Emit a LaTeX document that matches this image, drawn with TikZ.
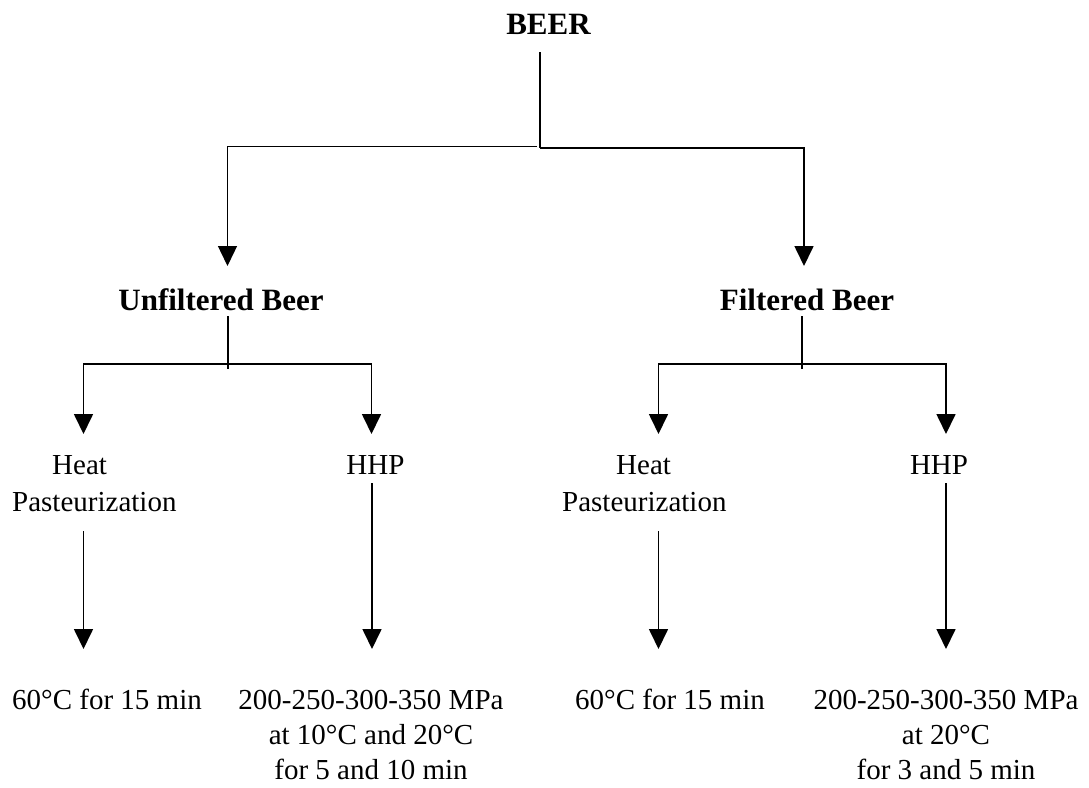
\documentclass[tikz,border=0pt]{standalone}
\usepackage{fontspec}
\setmainfont{Liberation Serif}
\usetikzlibrary{arrows.meta}
\newcommand{\ctrlines}[1]{\vtop{\baselineskip=35pt\lineskiplimit=0pt\halign{\hfil##\hfil\cr#1\cr}}}
\begin{document}
\begin{tikzpicture}[x=1pt,y=-1pt,
  conn/.style={line width=1.7pt,black},
  arr/.style={conn,-{Triangle[width=19pt,length=20pt]}},
  boldlbl/.style={inner sep=0pt,anchor=base,font=\fontsize{31}{38}\selectfont\bfseries},
  lbl/.style={inner sep=0pt,font=\fontsize{29}{36}\selectfont}]
\useasboundingbox (0,0) rectangle (1089,787);

% labels
\node[boldlbl] (beer) at (548.5,34) {BEER};
\node[boldlbl] (unf) at (221,310) {Unfiltered Beer};
\node[boldlbl] (fil) at (807,310) {Filtered Beer};
\node[lbl,anchor=base west] (heatL) at (12,474) {\fontsize{29}{37}\selectfont\begin{tabular}[t]{@{}l@{}}\hspace*{40pt}Heat\\Pasteurization\end{tabular}};
\node[lbl,anchor=base] (hhpL) at (375.5,474) {HHP};
\node[lbl,anchor=base west] (heatR) at (562,474) {\fontsize{29}{37}\selectfont\begin{tabular}[t]{@{}l@{}}\hspace*{54pt}Heat\\Pasteurization\end{tabular}};
\node[lbl,anchor=base] (hhpR) at (939,474) {HHP};
\node[lbl,anchor=base] (tL) at (107,709) {60°C for 15 min};
\node[lbl,anchor=base] (pL) at (371,709) {\ctrlines{200-250-300-350 MPa\cr at 10°C and 20°C\cr for 5 and 10 min}};
\node[lbl,anchor=base] (tR) at (670,709) {60°C for 15 min};
\node[lbl,anchor=base] (pR) at (946,709) {\ctrlines{200-250-300-350 MPa\cr at 20°C\cr for 3 and 5 min}};

% level 1 connectors
\coordinate (b0) at (540,52);
\coordinate (b1) at (540,148);
\coordinate (bl) at (537,146.5);
\coordinate (bL) at (227.5,146.5);
\coordinate (bR) at (804,148);
\coordinate (uT) at (227.5,266);
\coordinate (fT) at (804,266);
\draw[conn] (b0) -- (b1);
\draw[arr] (b1) -- (bR) -- (fT);
\draw[arr,line width=1.4pt] (bl) -- (bL) -- (uT);

% level 2 left
\coordinate (us0) at (228,316);
\coordinate (us1) at (228,369);
\coordinate (um) at (228,364);
\coordinate (uhl) at (83.5,364);
\coordinate (uhr) at (371.5,364);
\coordinate (uhlT) at (83.5,434);
\coordinate (uhrT) at (371.5,434);
\draw[conn] (us0) -- (us1);
\draw[arr] (um) -- (uhl) -- (uhlT);
\draw[arr] (um) -- (uhr) -- (uhrT);

% level 2 right
\coordinate (fs0) at (802,316);
\coordinate (fs1) at (802,369);
\coordinate (fm) at (802,364);
\coordinate (fhl) at (658.5,364);
\coordinate (fhr) at (946,364);
\coordinate (fhlT) at (658.5,434);
\coordinate (fhrT) at (946,434);
\draw[conn] (fs0) -- (fs1);
\draw[arr] (fm) -- (fhl) -- (fhlT);
\draw[arr] (fm) -- (fhr) -- (fhrT);

% level 3
\coordinate (a1s) at (83.5,531);
\coordinate (a1e) at (83.5,649);
\coordinate (a2s) at (372,483);
\coordinate (a2e) at (372,649);
\coordinate (a3s) at (658.5,531);
\coordinate (a3e) at (658.5,649);
\coordinate (a4s) at (946,483);
\coordinate (a4e) at (946,649);
\draw[arr] (a1s) -- (a1e);
\draw[arr] (a2s) -- (a2e);
\draw[arr] (a3s) -- (a3e);
\draw[arr] (a4s) -- (a4e);
\end{tikzpicture}
\end{document}
